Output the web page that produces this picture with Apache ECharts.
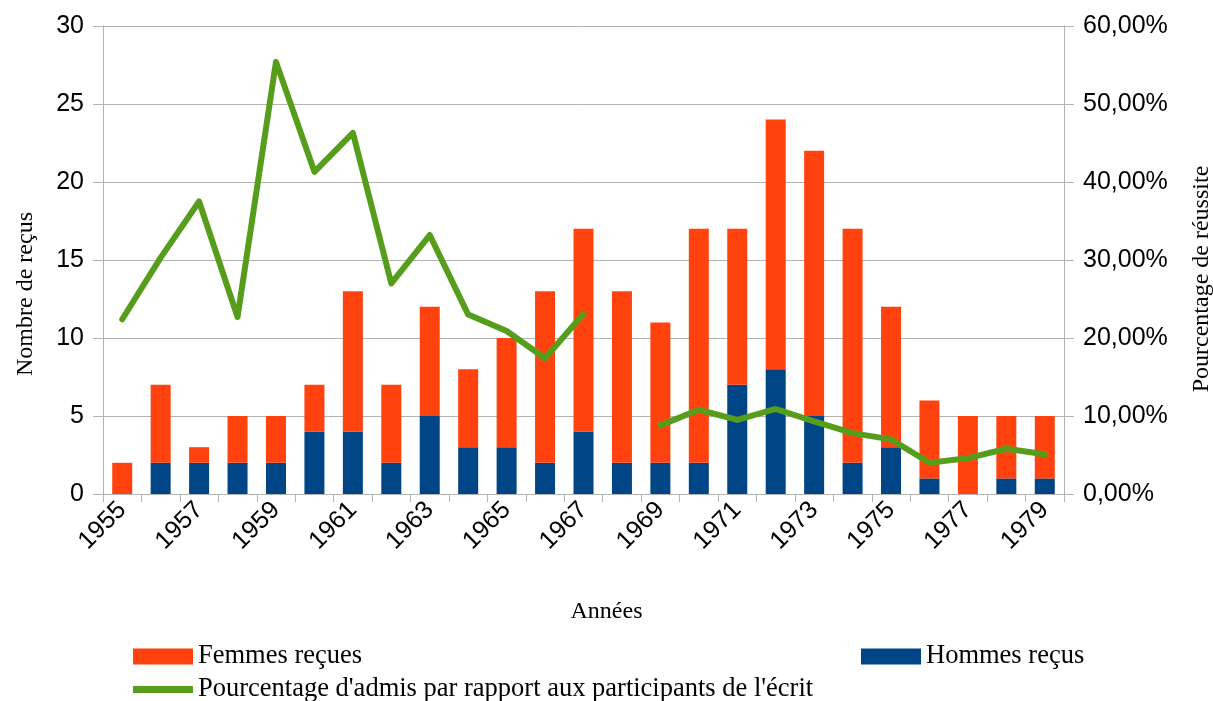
<!DOCTYPE html>
<html>
<head>
<meta charset="utf-8">
<script src="https://cdn.jsdelivr.net/npm/echarts@6/dist/echarts.min.js"></script>
<style>
  html, body { margin: 0; padding: 0; background: #fff; }
  #chart { width: 1213px; height: 701px; }
</style>
</head>
<body>
<div id="chart"></div>
<script>
var years = ['1955', '1956', '1957', '1958', '1959', '1960', '1961', '1962', '1963', '1964',
  '1965', '1966', '1967', '1968', '1969', '1970', '1971', '1972', '1973', '1974',
  '1975', '1976', '1977', '1978', '1979'];

// hommes en bas de la pile, femmes au-dessus
var hommes = [0, 2, 2, 2, 2, 4, 4, 2, 5, 3, 3, 2, 4, 2, 2, 2, 7, 8, 5, 2, 3, 1, 0, 1, 1];
var femmes = [2, 5, 1, 3, 3, 3, 9, 5, 7, 5, 7, 11, 13, 11, 9, 15, 10, 16, 17, 15, 9, 5, 5, 4, 4];

// pourcentage (en %), pas de valeur pour 1968
var pourcentage = [22.4, 30.3, 37.5, 22.7, 55.4, 41.3, 46.3, 27.0, 33.2, 23.0,
  20.9, 17.4, 23.1, null, 8.8, 10.8, 9.5, 10.9, 9.3, 7.8,
  7.0, 4.0, 4.6, 5.8, 5.1];

var leftTicks = [0, 30, 5];
var rightTicks = [0, 60, 10];

var orange = '#ff420e';
var blue = '#004586';
var green = '#579d1c';
var gridColor = '#b3b3b3';
var sans = 'Liberation Sans';
var serif = 'Liberation Serif';

var chart = echarts.init(document.getElementById('chart'), null, { renderer: 'canvas' });

function legendStyle() {
  return { fontFamily: serif, fontSize: 26.5, color: '#000' };
}

chart.setOption({
  backgroundColor: '#fff',
  animation: false,
  grid: { left: 103, right: 149, top: 26, bottom: 207, containLabel: false },
  legend: [
    {
      data: ['Femmes reçues'], left: 128, top: 638, itemWidth: 60, itemHeight: 16,
      itemGap: 0, icon: 'rect', textStyle: legendStyle()
    },
    {
      data: ['Hommes reçus'], left: 856, top: 638, itemWidth: 60, itemHeight: 16,
      itemGap: 0, icon: 'rect', textStyle: legendStyle()
    },
    {
      data: ['Pourcentage d\'admis par rapport aux participants de l\'écrit'],
      left: 128, top: 671, itemWidth: 60, itemHeight: 7, icon: 'rect',
      textStyle: legendStyle()
    }
  ],
  xAxis: {
    type: 'category',
    data: years,
    boundaryGap: true,
    axisLine: { lineStyle: { color: gridColor, width: 1 } },
    axisTick: { show: true, interval: 0, length: 8, lineStyle: { color: gridColor } },
    axisLabel: {
      interval: 1, rotate: 45, margin: 12,
      fontFamily: sans, fontSize: 25, color: '#000'
    },
    splitLine: { show: false }
  },
  yAxis: [
    {
      type: 'value',
      min: leftTicks[0], max: leftTicks[1], interval: leftTicks[2],
      axisLine: { show: true, lineStyle: { color: gridColor } },
      axisTick: { show: true, length: 10, lineStyle: { color: gridColor } },
      axisLabel: { margin: 19, fontFamily: sans, fontSize: 25, color: '#000' },
      splitLine: { lineStyle: { color: gridColor } }
    },
    {
      type: 'value',
      min: rightTicks[0], max: rightTicks[1], interval: rightTicks[2],
      position: 'right',
      axisLine: { show: true, lineStyle: { color: gridColor } },
      axisTick: { show: true, length: 10, lineStyle: { color: gridColor } },
      axisLabel: {
        margin: 19, fontFamily: sans, fontSize: 25, color: '#000',
        formatter: function (v) { return v.toFixed(2).replace('.', ',') + '%'; }
      },
      splitLine: { show: false }
    }
  ],
  graphic: [
    {
      type: 'text', left: 'center', top: 600,
      style: { text: 'Années', font: '24px "Liberation Serif"', fill: '#000' }
    },
    {
      type: 'text', x: 26, y: 294, rotation: Math.PI / 2,
      style: {
        text: 'Nombre de reçus', font: '24px "Liberation Serif"', fill: '#000',
        align: 'center', verticalAlign: 'middle'
      }
    },
    {
      type: 'text', x: 1202, y: 279, rotation: Math.PI / 2,
      style: {
        text: 'Pourcentage de réussite', font: '24px "Liberation Serif"', fill: '#000',
        align: 'center', verticalAlign: 'middle'
      }
    }
  ],
  series: [
    {
      name: 'Hommes reçus', type: 'bar', stack: 'recus', data: hommes,
      barWidth: 20, itemStyle: { color: blue }
    },
    {
      name: 'Femmes reçues', type: 'bar', stack: 'recus', data: femmes,
      barWidth: 20, itemStyle: { color: orange }
    },
    {
      name: 'Pourcentage d\'admis par rapport aux participants de l\'écrit',
      type: 'line', yAxisIndex: 1, data: pourcentage,
      symbol: 'none', connectNulls: false,
      lineStyle: { color: green, width: 6, cap: 'round', join: 'round' },
      itemStyle: { color: green }
    }
  ]
});

window.addEventListener('resize', function () { chart.resize(); });
</script>
</body>
</html>
